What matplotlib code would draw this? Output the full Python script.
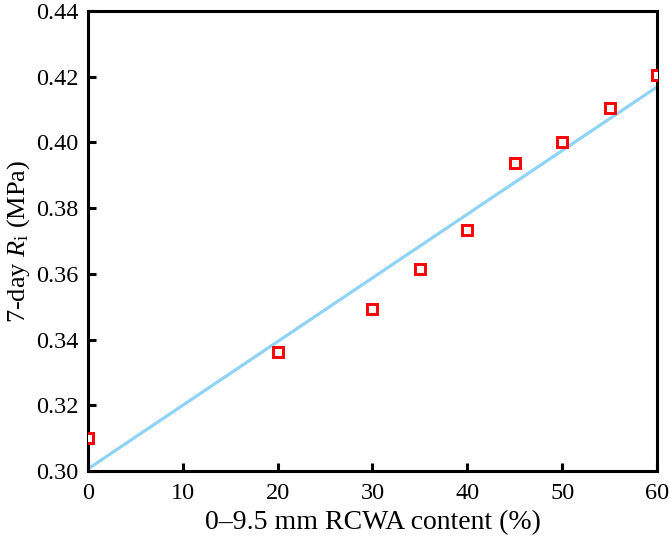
import numpy as np
import matplotlib
matplotlib.use('Agg')
import matplotlib.pyplot as plt
from matplotlib.ticker import FormatStrFormatter

plt.rcParams['font.family'] = ['Liberation Serif', 'DejaVu Serif']
plt.rcParams['mathtext.fontset'] = 'custom'
plt.rcParams['mathtext.rm'] = 'Liberation Serif'
plt.rcParams['mathtext.it'] = 'Liberation Serif:italic'

# datos
contenido = [0, 20, 30, 35, 40, 45, 50, 55, 60]
resistencia = [0.310, 0.3362, 0.3493, 0.3615, 0.3733, 0.3938, 0.400, 0.4105, 0.4205]

# recta de ajuste (extremos)
ajuste_x = [0, 60]
ajuste_y = [0.3006, 0.4169]

fig = plt.figure(figsize=(6.69, 5.40), dpi=100)
ax = fig.add_axes([0.1315, 0.128, 0.8505, 0.8515])

ax.plot(ajuste_x, ajuste_y, color='#8fd3f5', lw=2.3, zorder=2)
ax.plot(contenido, resistencia, 's', ms=6.5, mfc='white', mec='#ff0000', mew=2.1, zorder=3)

ax.set_xlim(0, 60)
ax.set_ylim(0.30, 0.44)
ax.set_xticks(np.arange(0, 61, 10))
ax.set_yticks(np.arange(0.30, 0.441, 0.02))
ax.yaxis.set_major_formatter(FormatStrFormatter('%.2f'))

for s in ax.spines.values():
    s.set_linewidth(2.2)
ax.tick_params(direction='in', length=6, width=2.2, labelsize=17.5, top=False, right=False)
ax.tick_params(axis='y', pad=7)
ax.tick_params(axis='x', pad=9)

ax.set_xlabel('0–9.5 mm RCWA content (%)', fontsize=20, labelpad=4)
ax.set_ylabel(r'7-day $R_\mathrm{i}$ (MPa)', fontsize=19)
ax.yaxis.set_label_coords(-0.098, 0.5)

fig.savefig('out.png', dpi=100)
